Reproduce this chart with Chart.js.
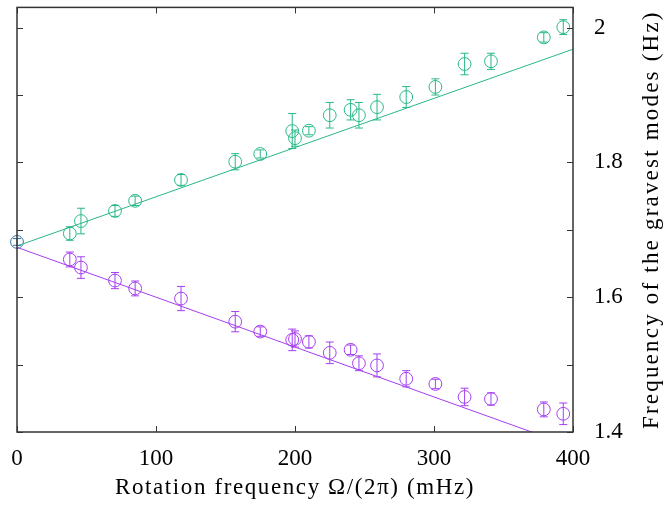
<!DOCTYPE html>
<html>
<head>
<meta charset="utf-8">
<script src="https://cdn.jsdelivr.net/npm/chart.js@4.4.1/dist/chart.umd.min.js"></script>
<style>
  html, body { margin: 0; padding: 0; background: #fff; }
  .wrap { width: 669px; height: 505px; }
</style>
</head>
<body>
<div class="wrap"><canvas id="myChart" width="669" height="505"></canvas></div>
<script>
// rotation frequency (mHz)
const rotFreq = [38, 46, 70.5, 85, 118, 157, 175, 198, 200, 210, 225, 240, 246, 259, 280, 301, 322, 341, 379, 393];

// upper (green) branch and its error
const upperFreq = [1.6945, 1.713, 1.728, 1.743, 1.774, 1.801, 1.8125, 1.8465, 1.836, 1.847, 1.870, 1.878, 1.870, 1.882, 1.897, 1.912, 1.946, 1.950, 1.9855, 2.0007];
const upperErr = [0.010, 0.019, 0.008, 0.007, 0.008, 0.012, 0.006, 0.026, 0.012, 0.006, 0.019, 0.015, 0.019, 0.019, 0.0155, 0.012, 0.016, 0.012, 0.007, 0.011];

// lower (purple) branch and its error
const lowerFreq = [1.656, 1.644, 1.6247, 1.613, 1.598, 1.5637, 1.549, 1.5367, 1.538, 1.5337, 1.5175, 1.522, 1.502, 1.4988, 1.479, 1.4713, 1.452, 1.449, 1.4335, 1.427];
const lowerErr = [0.011, 0.016, 0.012, 0.011, 0.018, 0.015, 0.007, 0.016, 0.012, 0.009, 0.016, 0.007, 0.011, 0.017, 0.012, 0.007, 0.013, 0.009, 0.011, 0.016];

// no rotation
const restX = [0];
const restFreq = [1.682];
const restErr = [0.005];

// linear fits, evaluated at the ends of the axis
const fitX = [0, 400];
const upperFit = [1.676, 1.968];
const lowerFit = [1.674, 1.378];

// ticks
const xTicks = [0, 100, 200, 300, 400];
const yTicks = [1.4, 1.5, 1.6, 1.7, 1.8, 1.9, 2.0];
const yTickLabels = ['1.4', '', '1.6', '', '1.8', '', '2'];

const xTitle = 'Rotation frequency Ω/(2π) (mHz)';
const yTitle = 'Frequency of the gravest modes (Hz)';

const GREEN = '#27b888';
const PURPLE = '#a53ff0';
const BLUE = '#3573a8';
const FONT = "'Liberation Serif', 'DejaVu Serif', serif";

function pts(xs, ys) {
  return xs.map(function (x, i) { return { x: x, y: ys[i] }; });
}

// vertical error bars with small caps
const errorBars = {
  id: 'errorBars',
  afterDatasetsDraw: function (chart) {
    const c = chart.ctx;
    const xs = chart.scales.x, ys = chart.scales.y;
    chart.data.datasets.forEach(function (ds) {
      if (!ds.errBars) return;
      c.save();
      c.strokeStyle = ds.borderColor;
      c.lineWidth = 1;
      ds.data.forEach(function (p, i) {
        const e = ds.errBars[i];
        const px = xs.getPixelForValue(p.x);
        const y1 = ys.getPixelForValue(p.y - e);
        const y2 = ys.getPixelForValue(p.y + e);
        c.beginPath();
        c.moveTo(px, y1); c.lineTo(px, y2);
        c.moveTo(px - 4, y1); c.lineTo(px + 4, y1);
        c.moveTo(px - 4, y2); c.lineTo(px + 4, y2);
        c.stroke();
      });
      c.restore();
    });
  }
};

// box frame with inward ticks on all four sides, plus both axis titles
const frame = {
  id: 'frame',
  afterDraw: function (chart) {
    const c = chart.ctx;
    const a = chart.chartArea;
    const xs = chart.scales.x, ys = chart.scales.y;
    c.save();
    c.strokeStyle = '#333';
    c.lineWidth = 1;
    c.beginPath();
    xs.ticks.forEach(function (t) {
      const px = Math.round(xs.getPixelForValue(t.value)) + 0.5;
      c.moveTo(px, a.bottom); c.lineTo(px, a.bottom - 6);
      c.moveTo(px, a.top); c.lineTo(px, a.top + 6);
    });
    ys.ticks.forEach(function (t) {
      const py = Math.round(ys.getPixelForValue(t.value)) + 0.5;
      c.moveTo(a.left, py); c.lineTo(a.left + 6, py);
      c.moveTo(a.right, py); c.lineTo(a.right - 6, py);
    });
    c.stroke();
    c.lineWidth = 1.5;
    c.strokeRect(a.left, a.top, a.right - a.left, a.bottom - a.top);

    c.fillStyle = '#000';
    c.font = '23px ' + FONT;
    c.textAlign = 'center';
    c.textBaseline = 'middle';
    c.letterSpacing = '1.6px';
    c.fillText(xTitle, (a.left + a.right) / 2, 488);

    c.letterSpacing = '2.2px';
    c.translate(652, (a.top + a.bottom) / 2);
    c.rotate(-Math.PI / 2);
    c.fillText(yTitle, 0, 0);
    c.restore();
  }
};

const ctx = document.getElementById('myChart');
const myChart = new Chart(ctx, {
  type: 'scatter',
  data: {
    datasets: [{
      label: 'upper fit',
      data: pts(fitX, upperFit),
      showLine: true,
      borderColor: GREEN,
      borderWidth: 1,
      pointRadius: 0
    }, {
      label: 'lower fit',
      data: pts(fitX, lowerFit),
      showLine: true,
      borderColor: PURPLE,
      borderWidth: 1,
      pointRadius: 0
    }, {
      label: 'upper',
      data: pts(rotFreq, upperFreq),
      errBars: upperErr,
      borderColor: GREEN,
      backgroundColor: 'rgba(0,0,0,0)',
      borderWidth: 1,
      pointRadius: 6.4,
      clip: false
    }, {
      label: 'lower',
      data: pts(rotFreq, lowerFreq),
      errBars: lowerErr,
      borderColor: PURPLE,
      backgroundColor: 'rgba(0,0,0,0)',
      borderWidth: 1,
      pointRadius: 6.4,
      clip: false
    }, {
      label: 'rest',
      data: pts(restX, restFreq),
      errBars: restErr,
      borderColor: BLUE,
      backgroundColor: 'rgba(0,0,0,0)',
      borderWidth: 1,
      pointRadius: 6.4,
      clip: false
    }]
  },
  options: {
    responsive: false,
    animation: false,
    layout: { padding: { left: 17, top: 5, right: 40, bottom: 0 } },
    scales: {
      x: {
        type: 'linear',
        min: 0,
        max: 400,
        afterBuildTicks: function (s) { s.ticks = xTicks.map(function (v) { return { value: v }; }); },
        afterFit: function (s) {
          s.height = 73;
          s.paddingLeft = 0; s.paddingRight = 0;
        },
        grid: { display: false },
        border: { display: false },
        ticks: {
          padding: 5,
          color: '#000',
          font: { family: FONT, size: 23 },
          maxRotation: 0
        }
      },
      y: {
        type: 'linear',
        position: 'right',
        min: 1.4,
        max: 2.03,
        afterBuildTicks: function (s) { s.ticks = yTicks.map(function (v) { return { value: v }; }); },
        afterFit: function (s) {
          s.width = 56;
          s.paddingTop = 0; s.paddingBottom = 0;
        },
        grid: { display: false },
        border: { display: false },
        ticks: {
          padding: 13,
          color: '#000',
          font: { family: FONT, size: 23 },
          callback: function (v, i) { return yTickLabels[i]; }
        }
      }
    },
    plugins: {
      legend: { display: false },
      tooltip: { enabled: false }
    }
  },
  plugins: [errorBars, frame]
});
</script>
</body>
</html>
